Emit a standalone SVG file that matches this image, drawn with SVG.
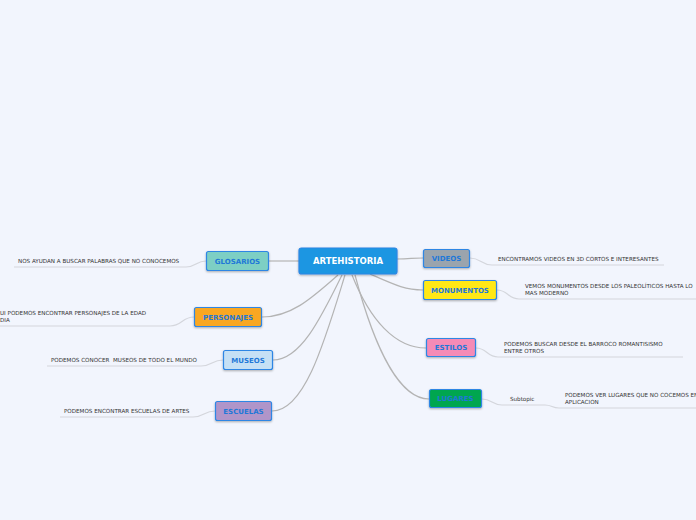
<svg xmlns="http://www.w3.org/2000/svg" width="696" height="520" viewBox="0 0 696 520">
<defs>
<filter id="sh" x="-20%" y="-30%" width="140%" height="170%">
<feDropShadow dx="0" dy="1" stdDeviation="0.8" flood-color="#000" flood-opacity="0.3"/>
</filter>
</defs>
<style>
.n rect{stroke:#2f86e4;stroke-width:1.2;filter:url(#sh)}
.n text{font-family:"DejaVu Sans",Verdana,sans-serif;font-weight:bold;font-size:7px;fill:#1f78d8;text-anchor:middle}
.c path{fill:none;stroke:#b4b4b4;stroke-width:1.2}
.u path{fill:none;stroke:#d4d6dc;stroke-width:1.2}
.t{font-family:"DejaVu Sans",Verdana,sans-serif;font-size:5.6px;fill:#333;white-space:pre}
</style>
<rect width="696" height="520" fill="#f2f5fd"/>
<g id="connectors" class="c">
<path d="M269,261 L299,261"/>
<path d="M397,259 C410,259 412,258 423,258"/>
<path d="M370,274 C395,285 405,290 423,290"/>
<path d="M338,275 C310,300 290,317 262,317"/>
<path d="M342,275 C320,320 300,360 273,360"/>
<path d="M345,275 C325,340 305,411 272,411"/>
<path d="M352,275 C370,320 395,348 426,348"/>
<path d="M355,275 C375,350 400,399 429,399"/>
</g>
<g id="leaf-connectors" class="u">
<path d="M206,261 C196,261 196,267 186,267 L14,267"/>
<path d="M194,317 C182,317 182,326 170,326 L0,326"/>
<path d="M223,360 C212,360 212,366 201,366 L47,366"/>
<path d="M215,411 C204,411 204,417 193,417 L60,417"/>
<path d="M470,258 C481,258 481,265 492,265 L664,265"/>
<path d="M497,290 C508,290 508,299 519,299 L696,299"/>
<path d="M476,348 C487,348 487,357 498,357 L683,357"/>
<path d="M482,399 C492,399 492,405 502,405 L545,405 C552,405 552,408 559,408 L696,408"/>
</g>
<g id="center" class="n">
<rect x="299" y="248" width="98" height="26" rx="2.5" fill="#1a96e2" stroke="#1a96e2"/>
<text x="348" y="264" style="font-size:8.5px;fill:#fff">ARTEHISTORIA</text>
</g>
<g id="glosarios" class="n">
<rect x="206.5" y="251.5" width="62" height="19" rx="2" fill="#7dcfc4"/>
<text x="237.5" y="263.5">GLOSARIOS</text>
</g>
<g id="personajes" class="n">
<rect x="194.5" y="307.5" width="67" height="19" rx="2" fill="#f9a723"/>
<text x="228" y="319.5">PERSONAJES</text>
</g>
<g id="museos" class="n">
<rect x="223.5" y="350.5" width="49" height="19" rx="2" fill="#c5e0f5"/>
<text x="248" y="362.5">MUSEOS</text>
</g>
<g id="escuelas" class="n">
<rect x="215.5" y="401.5" width="56" height="19" rx="2" fill="#b095c9"/>
<text x="243.5" y="413.5">ESCUELAS</text>
</g>
<g id="videos" class="n">
<rect x="423.5" y="249.5" width="46" height="18" rx="2" fill="#9aa4ad"/>
<text x="446.5" y="261">VIDEOS</text>
</g>
<g id="monumentos" class="n">
<rect x="423.5" y="280.5" width="73" height="19" rx="2" fill="#ffe815"/>
<text x="460" y="292.5">MONUMENTOS</text>
</g>
<g id="estilos" class="n">
<rect x="426.5" y="338.5" width="49" height="18" rx="2" fill="#f58bb6"/>
<text x="451" y="350">ESTILOS</text>
</g>
<g id="lugares" class="n">
<rect x="429.5" y="389.5" width="52" height="18" rx="2" fill="#00a650"/>
<text x="455.5" y="401">LUGARES</text>
</g>
<g id="leaves">
<text class="t" x="18" y="263">NOS AYUDAN A BUSCAR PALABRAS QUE NO CONOCEMOS</text>
<text class="t" x="0" y="315">UI PODEMOS ENCONTRAR PERSONAJES DE LA EDAD</text>
<text class="t" x="0" y="322">DIA</text>
<text class="t" x="51" y="362">PODEMOS CONOCER  MUSEOS DE TODO EL MUNDO</text>
<text class="t" x="64" y="413">PODEMOS ENCONTRAR ESCUELAS DE ARTES</text>
<text class="t" x="498" y="261">ENCONTRAMOS VIDEOS EN 3D CORTOS E INTERESANTES</text>
<text class="t" x="525" y="288">VEMOS MONUMENTOS DESDE LOS PALEOLÍTICOS HASTA LO</text>
<text class="t" x="525" y="295">MAS MODERNO</text>
<text class="t" x="504" y="346">PODEMOS BUSCAR DESDE EL BARROCO ROMANTISISMO</text>
<text class="t" x="504" y="353">ENTRE OTROS</text>
<text class="t" x="510" y="401">Subtopic</text>
<text class="t" x="565" y="397">PODEMOS VER LUGARES QUE NO COCEMOS EN</text>
<text class="t" x="565" y="404">APLICACION</text>
</g>
</svg>
